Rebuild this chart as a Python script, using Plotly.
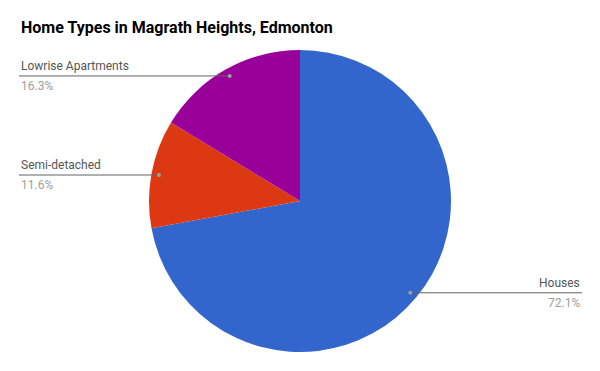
import math
import plotly.graph_objects as go

title = "Home Types in Magrath Heights, Edmonton"
categories = ["Houses", "Semi-detached", "Lowrise Apartments"]
values = [72.1, 11.6, 16.3]
colors = ["#3366cc", "#dc3912", "#990099"]

W, H = 600, 371
cx, cy, r = 300, 201, 151
left_x, right_x = 19, 582

fig = go.Figure(go.Pie(
    labels=categories, values=values, sort=False, direction="clockwise",
    rotation=0, marker=dict(colors=colors, line=dict(width=0)),
    textinfo="none", hoverinfo="label+percent", showlegend=False,
    domain=dict(x=[(cx - r) / W, (cx + r) / W], y=[(H - cy - r) / H, (H - cy + r) / H]),
))

shapes, annotations = [], []
total = sum(values)
cum = 0.0
for cat, v in zip(categories, values):
    mid = (cum + v / 2) / total * 2 * math.pi
    cum += v
    dx = cx + 0.95 * r * math.sin(mid)
    dy = cy - 0.95 * r * math.cos(mid)
    right_side = math.sin(mid) > 0
    xend = right_x if right_side else left_x
    px = lambda x: x / W
    py = lambda y: 1 - y / H
    shapes.append(dict(type="line", xref="paper", yref="paper",
                       x0=px(dx), x1=px(xend), y0=py(dy), y1=py(dy),
                       line=dict(color="#636363", width=1)))
    shapes.append(dict(type="circle", xref="paper", yref="paper",
                       x0=px(dx - 2), x1=px(dx + 2), y0=py(dy - 2), y1=py(dy + 2),
                       fillcolor="#9e9e9e", line=dict(width=0)))
    anchor = "right" if right_side else "left"
    annotations.append(dict(x=px(xend), y=py(dy), xref="paper", yref="paper",
                            text=cat, showarrow=False, xanchor=anchor, yanchor="middle",
                            yshift=10, font=dict(family="Roboto", size=12, color="#555555")))
    annotations.append(dict(x=px(xend), y=py(dy), xref="paper", yref="paper",
                            text=f"{v:.1f}%", showarrow=False, xanchor=anchor, yanchor="middle",
                            yshift=-10, font=dict(family="Roboto", size=12, color="#9e9e9e")))

annotations.append(dict(x=19 / W, y=1 - 28 / H, xref="paper", yref="paper",
                        text=f"<b>{title}</b>", showarrow=False, xanchor="left", yanchor="middle",
                        font=dict(family="Roboto", size=16, color="#000000")))

fig.update_layout(width=W, height=H, margin=dict(l=0, r=0, t=0, b=0),
                  paper_bgcolor="white", plot_bgcolor="white",
                  shapes=shapes, annotations=annotations)
fig.write_html("out.html")
